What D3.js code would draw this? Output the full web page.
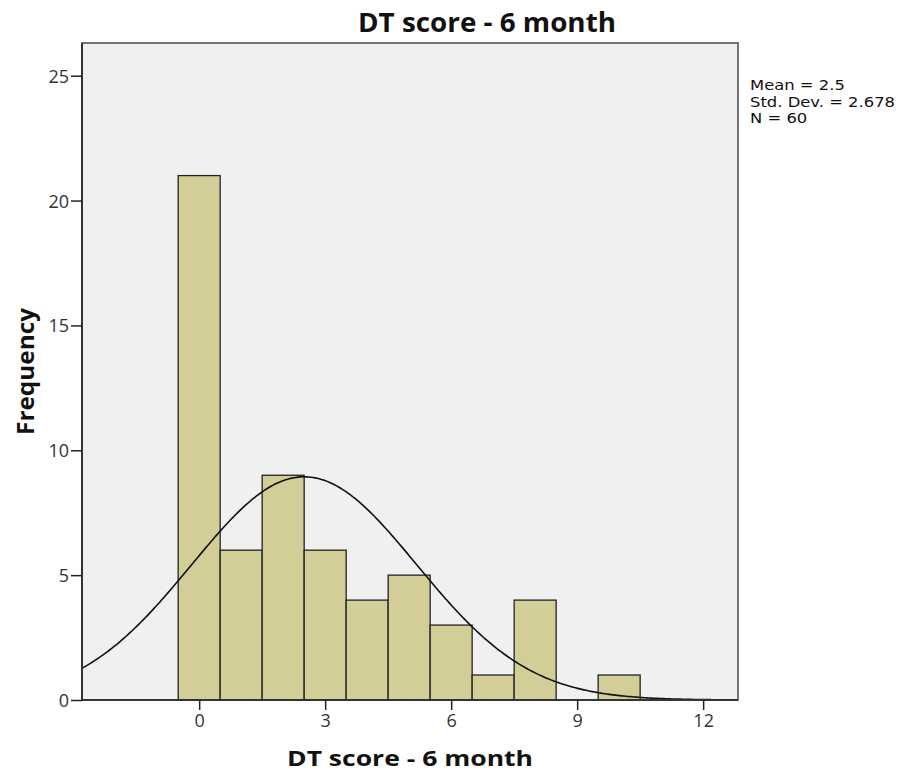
<!DOCTYPE html>
<html><head><meta charset="utf-8">
<script src="https://cdn.jsdelivr.net/npm/d3@7"></script>
<style>body{margin:0;background:#fff;}</style>
</head><body>
<svg id="c" width="901" height="772" font-family="'Open Sans',sans-serif"></svg>
<script>
const binCenters = [0,1,2,3,4,5,6,7,8,9,10];
const counts = [21,6,9,6,4,5,3,1,4,0,1];
const xTicks = [0,3,6,9,12];
const yTicks = [0,5,10,15,20,25];
const stats = ["Mean = 2.5","Std. Dev. = 2.678","N = 60"];
const mean = 2.5, sd = 2.678, N = 60;
const title = "DT score - 6 month";

const svg = d3.select("#c");
const L=82,R=738,T=43,B=700;
const x = d3.scaleLinear().domain([-2.79,12.83]).range([L,R]);
const y = d3.scaleLinear().domain([0,25]).range([B,75.7]);

svg.append("rect").attr("x",L).attr("y",T).attr("width",R-L).attr("height",B-T).attr("fill","#f0f0f0");

svg.append("g").selectAll("rect").data(binCenters.map((c,i)=>({c,n:counts[i]})).filter(d=>d.n>0))
 .join("rect")
 .attr("x",d=>x(d.c-0.5)).attr("width",d=>x(d.c+0.5)-x(d.c-0.5))
 .attr("y",d=>y(d.n)).attr("height",d=>y(0)-y(d.n))
 .attr("fill","#d3ce97").attr("stroke","#222").attr("stroke-width",1.3);

const pts = d3.range(-2.79,12.83,0.05).map(v=>[v, N*Math.exp(-0.5*((v-mean)/sd)**2)/(sd*Math.sqrt(2*Math.PI))]);
svg.append("path").datum(pts).attr("fill","none").attr("stroke","#111").attr("stroke-width",1.6)
 .attr("d",d3.line().x(d=>x(d[0])).y(d=>y(d[1])));

svg.append("rect").attr("x",L).attr("y",T).attr("width",R-L).attr("height",B-T).attr("fill","none").attr("stroke","#666").attr("stroke-width",1.8);

const ya = svg.append("g").attr("transform",`translate(${L},0)`).call(d3.axisLeft(y).tickValues(yTicks).tickSize(11).tickPadding(2));
const xa = svg.append("g").attr("transform",`translate(0,${B})`).call(d3.axisBottom(x).tickValues(xTicks).tickSize(10).tickPadding(4));
[ya,xa].forEach(a=>{a.attr("font-family",null); a.select(".domain").remove(); a.selectAll("line").attr("stroke","#222").attr("stroke-width",1.5); a.selectAll("text").attr("font-size",18).attr("fill","#333");});
ya.selectAll("text").attr("dy","0.36em");
svg.append("line").attr("x1",L).attr("x2",R).attr("y1",B).attr("y2",B).attr("stroke","#222").attr("stroke-width",1.6);
svg.append("line").attr("x1",L).attr("x2",L).attr("y1",T).attr("y2",B).attr("stroke","#222").attr("stroke-width",1.6);

svg.append("text").attr("x",487).attr("y",32).attr("text-anchor","middle").attr("font-size",26).attr("font-weight","bold").attr("fill","#111")
 .attr("textLength",258).attr("lengthAdjust","spacingAndGlyphs").text(title);
svg.append("text").attr("x",410).attr("y",765.5).attr("text-anchor","middle").attr("font-size",21.5).attr("font-weight","bold").attr("fill","#111")
 .attr("textLength",246).attr("lengthAdjust","spacingAndGlyphs").text(title);
svg.append("text").attr("transform","translate(34,371.5) rotate(-90)").attr("text-anchor","middle").attr("font-size",24).attr("font-weight","bold").attr("fill","#111")
 .attr("textLength",127).attr("lengthAdjust","spacingAndGlyphs").text("Frequency");
const st = svg.append("g").attr("font-family","'DejaVu Sans',sans-serif").selectAll("text").data(stats).join("text")
 .attr("x",750).attr("y",(d,i)=>90+i*16.5).attr("font-size",14).attr("fill","#111").text(d=>d);
const nat = st.nodes()[1].getComputedTextLength();
const k = 145/nat;
st.each(function(){ const w=this.getComputedTextLength(); d3.select(this).attr("textLength",w*k).attr("lengthAdjust","spacingAndGlyphs"); });
</script>
</body></html>
